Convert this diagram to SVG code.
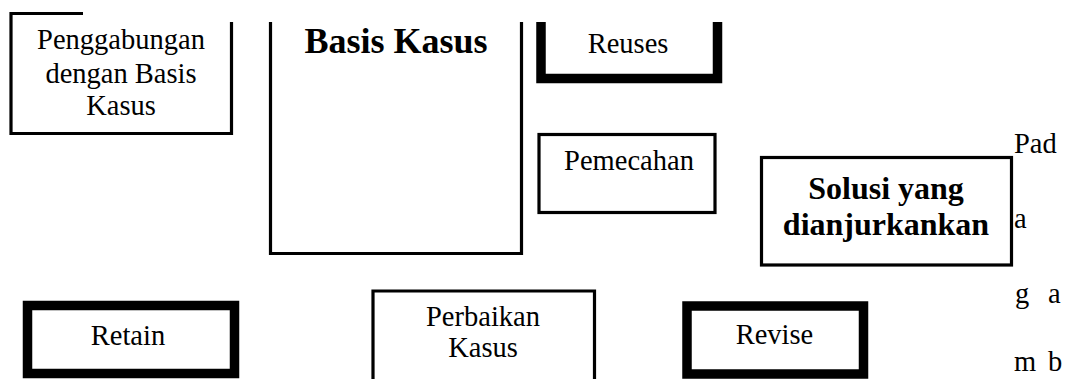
<svg xmlns="http://www.w3.org/2000/svg" width="1068" height="379" viewBox="0 0 1068 379">
  <style>
    .thin { fill: none; stroke: #000; stroke-width: 3.2; stroke-linejoin: miter; }
    .thick { fill: none; stroke: #000; stroke-width: 9.5; stroke-linejoin: miter; }
    .t { font-family: "Liberation Serif", "Times New Roman", serif; font-size: 28.5px; fill: #000; text-anchor: middle; }
    .b { font-family: "Liberation Serif", "Times New Roman", serif; font-size: 32px; font-weight: bold; fill: #000; text-anchor: middle; }
    .p { font-family: "Liberation Serif", "Times New Roman", serif; font-size: 28.5px; fill: #000; }
  </style>
  <rect width="1068" height="379" fill="#fff"/>
  <g id="connectors"></g>

  <g id="penggabungan">
    <path class="thin" d="M83,13.5 H11 V133.5 H231.5 V22"/>
    <text class="t" x="121" y="49">Penggabungan</text>
    <text class="t" x="121" y="83">dengan Basis</text>
    <text class="t" x="121" y="115">Kasus</text>
  </g>

  <g id="basis-kasus">
    <path class="thin" d="M270.5,22 V253.5 H521.5 V22"/>
    <text class="b" x="396" y="53" style="font-size:36px">Basis Kasus</text>
  </g>

  <g id="reuses">
    <path class="thick" d="M541,22 V78.5 H717.5 V22"/>
    <text class="t" x="628" y="53">Reuses</text>
  </g>

  <g id="pemecahan">
    <rect class="thin" x="539" y="134.5" width="176" height="78"/>
    <text class="t" x="629" y="170">Pemecahan</text>
  </g>

  <g id="solusi">
    <rect class="thin" x="761.5" y="157.5" width="250" height="107.5"/>
    <text class="b" x="886" y="199">Solusi yang</text>
    <text class="b" x="886" y="235">dianjurkankan</text>
  </g>

  <g id="retain">
    <rect class="thick" x="27.5" y="305.5" width="207" height="68"/>
    <text class="t" x="128" y="345">Retain</text>
  </g>

  <g id="perbaikan">
    <path class="thin" d="M373,385 V291 H594.5 V385"/>
    <text class="t" x="483" y="326">Perbaikan</text>
    <text class="t" x="483" y="357">Kasus</text>
  </g>

  <g id="revise">
    <rect class="thick" x="687" y="306" width="176.5" height="68"/>
    <text class="t" x="774.5" y="344">Revise</text>
  </g>

  <g id="side-text">
    <text class="p" x="1014" y="153">Pad</text>
    <text class="p" x="1014" y="228">a</text>
    <text class="p" y="303"><tspan x="1015">g</tspan><tspan x="1048">a</tspan></text>
    <text class="p" y="371"><tspan x="1014">m</tspan><tspan x="1048">b</tspan></text>
  </g>
</svg>
